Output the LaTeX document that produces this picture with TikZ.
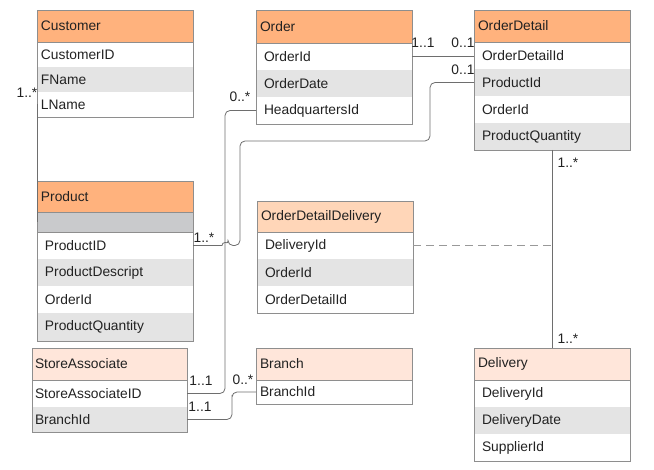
\documentclass[tikz,border=0pt]{standalone}
\usepackage{fontspec}
\setmainfont{Liberation Sans}
\usetikzlibrary{positioning}
\definecolor{hdark}{HTML}{FFB27D}
\definecolor{hmid}{HTML}{FFD6B8}
\definecolor{hlight}{HTML}{FFE6DA}
\definecolor{rowgray}{HTML}{E4E4E4}
\definecolor{blankgray}{HTML}{C9CACC}
\definecolor{boxline}{HTML}{8E8E8E}
\definecolor{wire}{HTML}{6E6E6E}
\definecolor{ink}{HTML}{222222}

\begin{document}
\begin{tikzpicture}[x=1pt, y=1pt,
      every node/.style={font=\fontsize{13.8}{16}\selectfont, text=ink, outer sep=0pt},
      head/.style={draw=boxline, line width=0.8pt, anchor=north west, minimum height=32pt,
        inner xsep=4pt, inner ysep=0pt, text width=148pt, align=left},
      row/.style={anchor=north west, minimum height=27pt, inner xsep=8pt, inner ysep=0pt,
        text width=140pt, align=left},
      tight/.style={inner xsep=4pt, text width=148pt},
      shade/.style={fill=rowgray},
      frame/.style={draw=boxline, line width=0.8pt},
      link/.style={draw=wire, line width=0.8pt, rounded corners=5pt},
      lbl/.style={inner sep=0pt}
    ]
    \useasboundingbox (0,0) rectangle (654,-470);

    % customer
    \node [head, fill=hdark] (cust) at (37,-10) {Customer};
    \node [row, tight, minimum height=25pt] (cust1) at (cust.south west) {CustomerID};
    \node [row, tight, minimum height=25pt, shade] (cust2) at (cust1.south west) {FName};
    \node [row, tight, minimum height=25pt] (cust3) at (cust2.south west) {LName};
    \draw[frame] (cust.north west) rectangle (cust3.south east);

    % order
    \node [head, fill=hdark, minimum height=33pt] (ord) at (256,-10) {Order};
    \node [row] (ord1) at (ord.south west) {OrderId};
    \node [row, shade] (ord2) at (ord1.south west) {OrderDate};
    \node [row] (ord3) at (ord2.south west) {HeadquartersId};
    \draw[frame] (ord.north west) rectangle (ord3.south east);

    % order detail
    \node [head, fill=hdark] (od) at (474,-10) {OrderDetail};
    \node [row] (od1) at (od.south west) {OrderDetailId};
    \node [row, shade] (od2) at (od1.south west) {ProductId};
    \node [row] (od3) at (od2.south west) {OrderId};
    \node [row, shade] (od4) at (od3.south west) {ProductQuantity};
    \draw[frame] (od.north west) rectangle (od4.south east);

    % product
    \node [head, fill=hdark, minimum height=31pt] (prod) at (37,-181) {Product};
    \node [row, minimum height=20pt, fill=blankgray, draw=boxline, line width=0.8pt] (prod0) at (prod.south west) {};
    \node [row] (prod1) at (prod0.south west) {ProductID};
    \node [row, shade] (prod2) at (prod1.south west) {ProductDescript};
    \node [row] (prod3) at (prod2.south west) {OrderId};
    \node [row, shade, minimum height=28pt] (prod4) at (prod3.south west) {ProductQuantity};
    \draw[frame] (prod.north west) rectangle (prod4.south east);

    % order detail delivery
    \node [head, fill=hmid, minimum height=31pt] (odd) at (257,-201) {OrderDetailDelivery};
    \node [row] (odd1) at (odd.south west) {DeliveryId};
    \node [row, shade] (odd2) at (odd1.south west) {OrderId};
    \node [row] (odd3) at (odd2.south west) {OrderDetailId};
    \draw[frame] (odd.north west) rectangle (odd3.south east);

    % store associate
    \node [head, fill=hlight, inner xsep=3pt, text width=149pt] (sa) at (32,-348) {StoreAssociate};
    \node [row, inner xsep=3pt, text width=149pt] (sa1) at (sa.south west) {StoreAssociateID};
    \node [row, inner xsep=3pt, text width=149pt, minimum height=25pt, shade] (sa2) at (sa1.south west) {BranchId};
    \draw[frame] (sa.north west) rectangle (sa2.south east);

    % branch
    \node [head, fill=hlight] (br) at (256,-348) {Branch};
    \node [row, tight, minimum height=24pt] (br1) at (br.south west) {BranchId};
    \draw[frame] (br.north west) rectangle (br1.south east);

    % delivery
    \node [head, fill=hlight] (dl) at (474,-348) {Delivery};
    \node [row] (dl1) at (dl.south west) {DeliveryId};
    \node [row, shade] (dl2) at (dl1.south west) {DeliveryDate};
    \node [row] (dl3) at (dl2.south west) {SupplierId};
    \draw[frame] (dl.north west) rectangle (dl3.south east);

    % links
    \coordinate (1) at (225,-250);
    \coordinate (2) at (430,-141);
    \coordinate (3) at (240,-200);
    \coordinate (4) at (228,-245.5);
    \coordinate (6) at (232,-400);
    \draw[link] (cust3.west) -- (prod0.west);
    \draw[link] (ord1.east) -- (ord1.east -| od1.west);
    \draw[link] (ord3.west) -| (1) |- (sa1.east);
    \draw[link] (od2.west) -| (2) -| (3) |- (4) [sharp corners]
        arc[start angle=0, end angle=180, radius=3pt] -- (prod1.east);
    \draw[link] (sa2.east) -| (6) |- (br1.west);
    \draw[link] (od4.south) -- (dl.north);
    \draw[link, draw=gray!80, dash pattern=on 8pt off 5pt] (odd1.east) -- (odd1.east -| od4.south);

    % multiplicities
    \node [lbl] (m1) at (27,-93) {1..*};
    \node [lbl] (m2) at (423,-43) {1..1};
    \node [lbl] (m3) at (463,-43) {0..1};
    \node [lbl] (m4) at (463,-70) {0..1};
    \node [lbl] (m5) at (240,-97) {0..*};
    \node [lbl] (m6) at (204,-238) {1..*};
    \node [lbl] (m7) at (568,-163) {1..*};
    \node [lbl] (m8) at (568,-339) {1..*};
    \node [lbl] (m9) at (201,-381) {1..1};
    \node [lbl] (m10) at (200,-407) {1..1};
    \node [lbl] (m11) at (243,-380) {0..*};

\end{tikzpicture}
\end{document}
